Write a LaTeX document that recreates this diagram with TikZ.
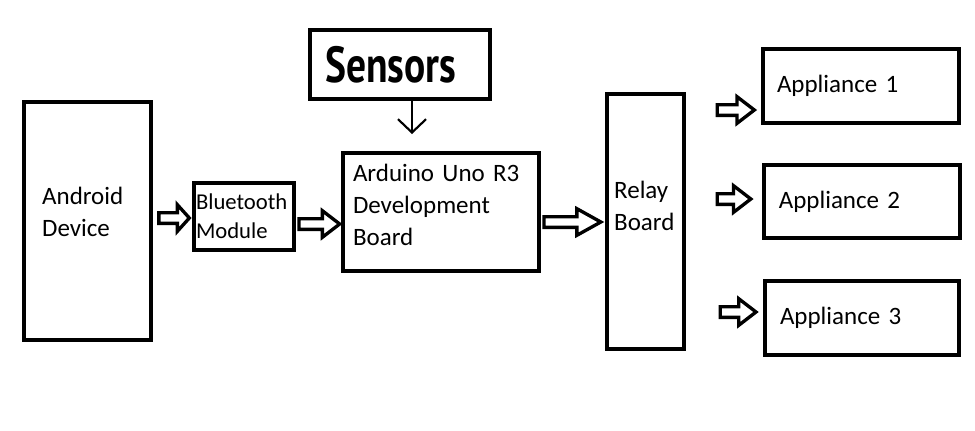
\documentclass[tikz,border=0pt]{standalone}
\usepackage{fontspec}
\setmainfont{Carlito}
\newfontfamily\sensfont{PT Sans}
\usetikzlibrary{calc, positioning, arrows.meta}

\tikzset{
  box/.style={shape=rectangle, draw=black, line width=3pt, fill=white, inner sep=0pt, align=left,
    font=\fontsize{18.75}{24}\selectfont},
  hollow/.style={draw=black, line width=2.5pt, line join=miter, to path={let \p1=(\tikztostart), \p2=(\tikztotarget) in
    -- (\x1,\y1+4pt) -- (\x2-#1,\y1+4pt) -- (\x2-#1,\y1+10pt) -- (\x2,\y1) -- (\x2-#1,\y1-10pt) -- (\x2-#1,\y1-4pt) -- (\x1,\y1-4pt) -- cycle}},
  hollow/.default=10pt
}

\begin{document}
\begin{tikzpicture}[x=0.75pt, y=-0.75pt]
\useasboundingbox[fill=white] (0,0) rectangle (975,430);
\node[box, minimum width=95pt, minimum height=178pt, text width=68pt] (android) at (87.5,221) {Android\\Device\\[-10.5pt]~};
\node[box, minimum width=75pt, minimum height=50pt, text width=72pt, font=\fontsize{17}{21.75}\selectfont] (bt) at (244,216.5) {Bluetooth\\Module};
\node[box, minimum width=135pt, minimum height=52pt, text width=112pt] (sensors) at (400,64.5) {{\sensfont\bfseries\fontsize{38}{42}\selectfont\scalebox{0.78}[1]{Sensors}}};
\node[box, minimum width=147pt, minimum height=88.5pt, text width=132pt] (arduino) at (441,212) {Arduino Uno R3\\Development\\Board\\[-13.5pt]~};
\node[box, minimum width=58pt, minimum height=191pt, text width=47pt] (relay) at (645.5,221.5) {Relay\\Board\\~};
\node[box, minimum width=147pt, minimum height=55pt, text width=126pt] (app1) at (861,86) {Appliance 1};
\node[box, minimum width=147pt, minimum height=55pt, text width=124pt] (app2) at (861.5,201.5) {Appliance 2};
\node[box, minimum width=146pt, minimum height=55pt, text width=123pt] (app3) at (862,318) {Appliance 3};
% block arrows
\draw[hollow=9pt] ($(android.east |- 0,218)+(6,0)$) to ([xshift=-2pt]bt.west);
\draw[hollow=13pt] ($(bt.east |- 0,224)+(3,0)$) to ([xshift=-1pt]arduino.west);
\draw[hollow=18pt] ($(arduino.east |- 0,222)+(3,0)$) to ([xshift=-3pt]relay.west);
\draw[hollow=13pt] ($(relay.east |- 0,110)+(31,0)$) to ([xshift=-5pt]app1.west);
\draw[hollow=13pt] ($(relay.east |- 0,199)+(31,0)$) to ([xshift=-8pt]app2.west);
\draw[hollow=13pt] ($(relay.east |- 0,312)+(34,0)$) to ([xshift=-5pt]app3.west);
% sensors feed
\coordinate (ardin) at (412,134);
\draw[line width=1.6pt, -{Straight Barb[length=10pt, width=21pt, line width=1.6pt]}] (sensors.south -| ardin) -- (ardin);
\end{tikzpicture}
\end{document}
